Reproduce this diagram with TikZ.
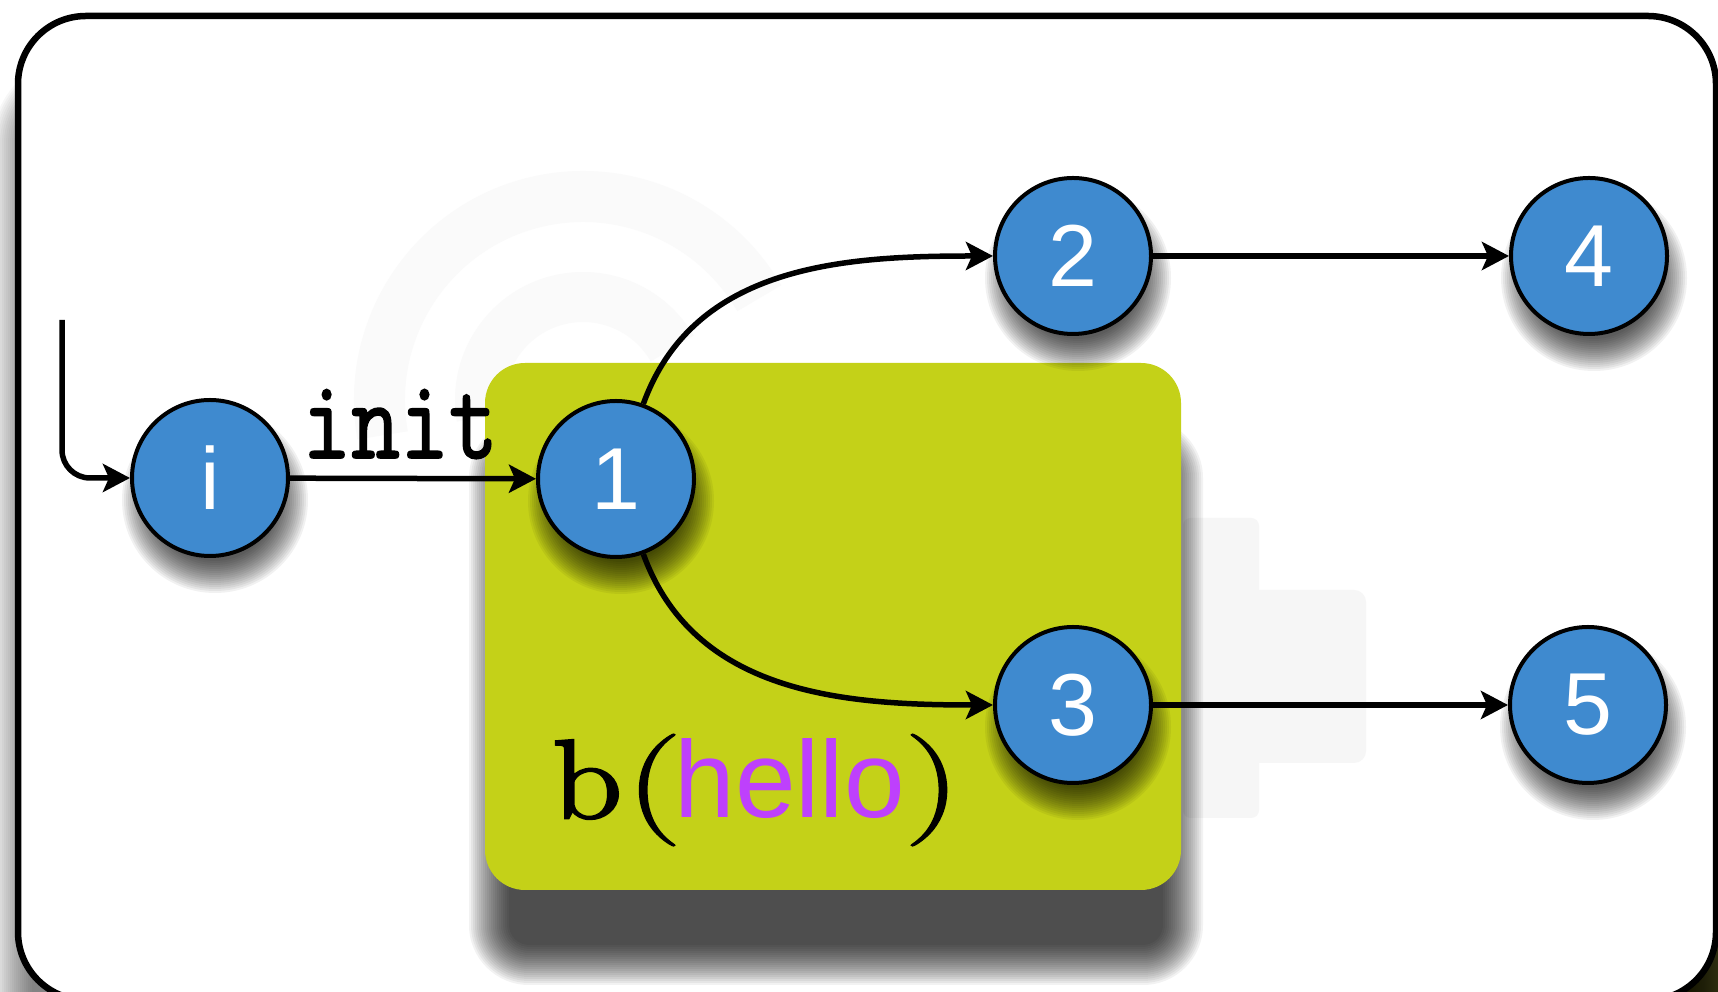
\documentclass[tikz,border=0pt]{standalone}
\usepackage{graphicx}
\usepackage{fontspec}
\newfontfamily\numfont{Liberation Sans}
\newfontfamily\typefont[FakeBold=1.6]{Latin Modern Mono}
\newfontfamily\letterfont[FakeBold=2.4]{Latin Modern Roman}
\newfontfamily\parenfont[FakeBold=1.0]{Latin Modern Roman}
\usetikzlibrary{arrows.meta}

\definecolor{nodeblue}{RGB}{63,138,207}
\definecolor{boxgreen}{RGB}{196,209,24}
\definecolor{argpurple}{RGB}{190,64,252}
\definecolor{markgray}{RGB}{250,250,250}
\definecolor{pluggray}{RGB}{246,246,246}
\definecolor{cornerolive}{RGB}{58,58,22}

% soft shadow of a rounded rectangle: x1 y1 x2 y2 radius opacity-per-layer
\newcommand\softbox[6]{%
  \foreach \d in {-20,-18,...,20}{%
    \fill[black,opacity=#6,rounded corners={(#5+(\d))*1pt}]
      ({#1-(\d)},{#2-(\d)}) rectangle ({#3+(\d)},{#4+(\d)});}}
% soft shadow of a circle: centre x, centre y, radius, opacity-per-layer
\newcommand\softdisc[4]{%
  \foreach \d in {-16,-14,...,16}{%
    \fill[black,opacity=#4] (#1,#2) circle ({(#3+(\d))*1pt});}}

\tikzset{
  state/.style={circle, draw=black, line width=4pt, fill=nodeblue,
    minimum size=156pt, inner sep=0pt, text=white,
    font=\numfont\fontsize{88}{88}\selectfont},
  flow/.style={line width=5.5pt, -{Stealth[length=27pt,width=28pt,inset=6pt]}},
  frameline/.style={draw=black, line width=6.5pt, rounded corners=68pt},
}

\begin{document}
\begin{tikzpicture}[x=1pt,y=1pt]
\useasboundingbox (0,0) rectangle (1718,992);
\clip (0,0) rectangle (1718,992);

% outer corner patch and the frame's own shadow
\fill[cornerolive] (1630,0) rectangle (1718,80);
\softbox{12}{-68}{1710}{916}{68}{0.03}

% frame
\fill[white, rounded corners=68pt] (18,-8) rectangle (1716,976);

% faint background emblem
\draw[markgray, line width=51pt] (583,592) ++(190:203.5) arc[start angle=190, end angle=30, radius=203.5];
\draw[markgray, line width=50pt] (583,592) ++(190:103) arc[start angle=190, end angle=30, radius=103];
\fill[pluggray, rounded corners=8pt] (1183,174) rectangle (1259,474);
\fill[pluggray, rounded corners=12pt] (1211,229) rectangle (1366,402);

\draw[frameline] (18,-8) rectangle (1716,976);

% grouping box with its shadow
\softbox{489}{27}{1183}{554}{40}{0.051}
\fill[boxgreen, rounded corners=40pt] (485,102) rectangle (1181,629);

% node shadows
\softdisc{215}{492}{77}{0.055}
\softdisc{621}{491}{77}{0.055}
\softdisc{1078}{714}{77}{0.055}
\softdisc{1594}{714}{77}{0.055}
\softdisc{1078}{265}{77}{0.055}
\softdisc{1593}{265}{77}{0.055}

% states
\node[state] (ni) at (210,514) {i};
\node[state] (n1) at (616,513) {1};
\node[state] (n2) at (1073,736) {2};
\node[state] (n4) at (1589,736) {4};
\node[state] (n3) at (1073,287) {3};
\node[state] (n5) at (1588,287) {5};

% transitions
\coordinate (start) at (62,672);
\draw[flow, rounded corners=28pt] (start) |- (ni);
\draw[flow] (ni) -- (n1);
\draw[flow] (n1) to[out=70, in=180] (n2);
\draw[flow] (n1) to[out=-70, in=180] (n3);
\draw[flow] (n2) -- (n4);
\draw[flow] (n3) -- (n5);

% labels
\node[anchor=base west, inner sep=0pt] (initlbl) at (302,534)
  {\typefont\fontsize{95}{95}\selectfont\scalebox{1}[1.2]{init}};
\node[anchor=base west, inner sep=0pt] (arglbl) at (552,174)
  {\fontsize{112}{112}\selectfont
   {\letterfont\scalebox{1.22}[1]{b}}\kern3pt{\parenfont\scalebox{1.45}[1]{(}}\kern-8pt%
   {\numfont\fontsize{109}{109}\selectfont\color{argpurple}hello}%
   \kern-1pt{\parenfont\scalebox{1.45}[1]{)}}};
\end{tikzpicture}
\end{document}
